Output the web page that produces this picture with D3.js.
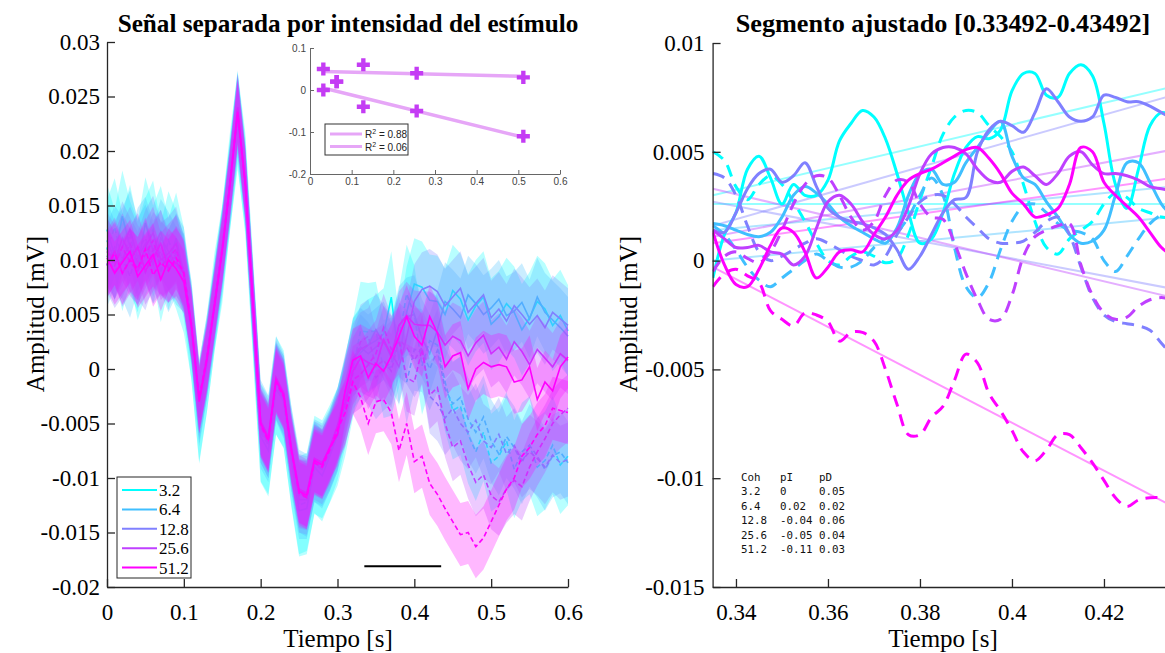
<!DOCTYPE html>
<html>
<head>
<meta charset="utf-8">
<script src="https://cdn.jsdelivr.net/npm/d3@7"></script>
<style>
  body { margin: 0; background: #fff; }
  svg { display: block; }
</style>
</head>
<body>
<svg id="chart" width="1165" height="653"></svg>
<script>
// ---------- data ----------
const coherences = ["3.2", "6.4", "12.8", "25.6", "51.2"];
const cohFraction = [0.032, 0.064, 0.128, 0.256, 0.512];
const palette = ["#00ffff", "#40bfff", "#8080ff", "#bf40ff", "#ff00ff"];

// standard error of each averaged signal (mV)
const semD = [0.0042, 0.0036, 0.0034, 0.0031, 0.0029];
const semI = [0.0045, 0.0038, 0.0034, 0.0031, 0.0029];

// averaged signals, 0 to 0.6 s every 10 ms (mV); D = solid, I = dashed
const ampD_32 = [0.0128,0.0104,0.0140,0.0112,0.0094,0.0134,0.0108,0.0126,0.0096,0.0120,0.0088,0.0030,-0.0045,0.0002,0.0058,0.0108,0.0168,0.0230,0.0165,0.0052,-0.0062,-0.0075,-0.0018,-0.0030,-0.0085,-0.0130,-0.0128,-0.0090,-0.0098,-0.0080,-0.0060,
  -0.0030,0.0005,0.0015,0.0022,0.0026,0.0032,0.0066,0.0008,0.0052,0.0078,0.0075,0.0063,0.0062,0.0050,0.0072,0.0064,0.0045,0.0058,0.0066,0.0041,0.0048,0.0060,0.0052,0.0036,0.0047,0.0062,0.0055,0.0040,0.0049,0.0035];
const ampI_32 = [0.0110,0.0130,0.0098,0.0124,0.0090,0.0112,0.0128,0.0088,0.0118,0.0100,0.0078,0.0035,-0.0040,0.0005,0.0062,0.0105,0.0172,0.0228,0.0172,0.0058,-0.0058,-0.0070,-0.0015,-0.0028,-0.0080,-0.0125,-0.0122,-0.0088,-0.0092,-0.0078,-0.0062,
  -0.0035,0.0000,0.0035,0.0034,0.0035,0.0000,0.0002,0.0028,0.0069,0.0050,0.0003,0.0026,0.0022,-0.0012,-0.0038,-0.0034,-0.0060,-0.0076,-0.0058,-0.0086,-0.0080,-0.0066,-0.0092,-0.0076,-0.0070,-0.0090,-0.0084,-0.0070,-0.0088,-0.0080];
const ampD_64 = [0.0118,0.0100,0.0112,0.0128,0.0102,0.0115,0.0096,0.0120,0.0108,0.0095,0.0088,0.0038,-0.0035,0.0008,0.0060,0.0112,0.0172,0.0238,0.0168,0.0058,-0.0055,-0.0068,-0.0012,-0.0028,-0.0078,-0.0120,-0.0120,-0.0086,-0.0092,-0.0076,-0.0058,
  -0.0025,0.0010,0.0020,0.0014,0.0020,0.0026,0.0010,0.0040,0.0048,0.0050,0.0028,0.0014,0.0036,0.0062,0.0055,0.0047,0.0068,0.0060,0.0050,0.0056,0.0064,0.0049,0.0053,0.0061,0.0046,0.0066,0.0052,0.0045,0.0038,0.0030];
const ampI_64 = [0.0095,0.0112,0.0102,0.0085,0.0110,0.0120,0.0098,0.0108,0.0090,0.0105,0.0092,0.0042,-0.0030,0.0012,0.0058,0.0108,0.0168,0.0232,0.0174,0.0062,-0.0048,-0.0062,-0.0008,-0.0024,-0.0072,-0.0112,-0.0116,-0.0084,-0.0088,-0.0074,-0.0056,
  -0.0030,-0.0005,0.0012,0.0005,-0.0008,0.0000,0.0006,0.0030,-0.0012,0.0018,0.0017,0.0000,0.0017,-0.0018,-0.0032,-0.0026,-0.0046,-0.0058,-0.0044,-0.0066,-0.0078,-0.0062,-0.0072,-0.0086,-0.0070,-0.0080,-0.0092,-0.0080,-0.0076,-0.0086];
const ampD_128 = [0.0110,0.0098,0.0120,0.0105,0.0092,0.0112,0.0125,0.0100,0.0106,0.0115,0.0086,0.0042,-0.0026,0.0012,0.0062,0.0112,0.0170,0.0236,0.0170,0.0060,-0.0048,-0.0062,-0.0008,-0.0022,-0.0072,-0.0112,-0.0114,-0.0082,-0.0086,-0.0072,-0.0052,
  -0.0020,0.0008,0.0018,0.0022,0.0036,0.0024,0.0015,0.0002,0.0029,0.0062,0.0073,0.0076,0.0071,0.0058,0.0066,0.0074,0.0052,0.0060,0.0068,0.0047,0.0055,0.0044,0.0058,0.0050,0.0041,0.0049,0.0038,0.0052,0.0046,0.0040];
const ampI_128 = [0.0104,0.0090,0.0100,0.0115,0.0098,0.0088,0.0110,0.0102,0.0094,0.0108,0.0090,0.0040,-0.0030,0.0008,0.0058,0.0108,0.0168,0.0232,0.0168,0.0058,-0.0052,-0.0066,-0.0012,-0.0026,-0.0076,-0.0116,-0.0118,-0.0086,-0.0090,-0.0076,-0.0058,
  -0.0028,0.0002,0.0025,0.0030,0.0002,0.0008,-0.0002,0.0027,0.0020,0.0008,0.0020,-0.0025,-0.0032,-0.0045,-0.0036,-0.0050,-0.0058,-0.0047,-0.0066,-0.0072,-0.0060,-0.0078,-0.0070,-0.0084,-0.0076,-0.0082,-0.0090,-0.0079,-0.0086,-0.0083];
const ampD_256 = [0.0096,0.0108,0.0088,0.0100,0.0112,0.0090,0.0102,0.0115,0.0092,0.0098,0.0088,0.0040,-0.0028,0.0010,0.0060,0.0110,0.0170,0.0240,0.0172,0.0062,-0.0048,-0.0062,-0.0008,-0.0022,-0.0072,-0.0110,-0.0114,-0.0082,-0.0086,-0.0072,-0.0052,
  -0.0032,-0.0002,0.0010,0.0006,0.0003,0.0027,0.0012,0.0040,0.0049,0.0041,0.0040,0.0040,0.0034,0.0022,0.0030,0.0026,0.0012,0.0024,0.0031,0.0014,0.0020,0.0009,0.0025,0.0016,0.0004,0.0018,0.0010,0.0002,0.0014,0.0008];
const ampI_256 = [0.0108,0.0095,0.0112,0.0098,0.0090,0.0105,0.0118,0.0094,0.0102,0.0110,0.0085,0.0042,-0.0028,0.0012,0.0062,0.0112,0.0172,0.0238,0.0170,0.0060,-0.0050,-0.0064,-0.0010,-0.0024,-0.0074,-0.0114,-0.0116,-0.0084,-0.0088,-0.0074,-0.0056,
  -0.0040,-0.0010,-0.0005,0.0004,0.0014,0.0038,0.0018,0.0026,-0.0008,-0.0012,0.0018,-0.0024,-0.0017,-0.0050,-0.0072,-0.0066,-0.0088,-0.0104,-0.0097,-0.0116,-0.0122,-0.0110,-0.0102,-0.0108,-0.0090,-0.0076,-0.0064,-0.0050,-0.0042,-0.0036];
const ampD_512 = [0.0102,0.0088,0.0098,0.0108,0.0085,0.0095,0.0105,0.0082,0.0100,0.0092,0.0080,0.0038,-0.0030,0.0008,0.0058,0.0108,0.0168,0.0236,0.0170,0.0060,-0.0050,-0.0064,-0.0010,-0.0024,-0.0074,-0.0112,-0.0116,-0.0084,-0.0088,-0.0072,-0.0060,
  -0.0020,0.0008,0.0012,-0.0008,0.0005,-0.0002,0.0012,0.0030,0.0048,0.0030,0.0022,0.0048,0.0033,0.0002,0.0012,0.0015,-0.0018,0.0000,0.0006,0.0002,0.0004,0.0002,-0.0012,-0.0010,0.0002,-0.0028,-0.0012,-0.0020,0.0002,0.0011];
const ampI_512 = [0.0095,0.0106,0.0088,0.0100,0.0092,0.0110,0.0086,0.0098,0.0090,0.0102,0.0088,0.0040,-0.0026,0.0010,0.0060,0.0110,0.0170,0.0234,0.0168,0.0058,-0.0052,-0.0066,-0.0012,-0.0026,-0.0076,-0.0114,-0.0118,-0.0086,-0.0090,-0.0074,-0.0055,
  -0.0040,-0.0012,-0.0026,-0.0050,-0.0030,-0.0028,-0.0040,-0.0075,-0.0050,-0.0085,-0.0080,-0.0105,-0.0115,-0.0128,-0.0140,-0.0152,-0.0150,-0.0163,-0.0155,-0.0140,-0.0125,-0.0110,-0.0100,-0.0080,-0.0072,-0.0060,-0.0052,-0.0036,-0.0038,-0.0040];

// fitted segment, 0.335 to 0.435 s every 2.5 ms (mV)
const segD_32 = [-0.0008,0.0012,0.0022,0.0042,0.0048,0.0038,0.0026,0.0035,0.0030,0.0030,0.0037,0.0055,0.0063,0.0069,0.0066,0.0056,0.0040,0.0022,0.0008,0.0010,0.0022,0.0040,0.0052,0.0057,0.0056,0.0060,0.0078,0.0086,0.0086,0.0076,0.0075,0.0086,0.0090,0.0085,0.0063,0.0035,0.0024,0.0042,0.0062,0.0068,0.0066];
const segI_32 = [0.0050,0.0046,0.0034,0.0028,0.0035,0.0039,0.0035,0.0027,0.0018,0.0008,0.0000,-0.0002,0.0002,0.0004,0.0002,-0.0001,0.0001,0.0012,0.0028,0.0043,0.0058,0.0066,0.0069,0.0068,0.0062,0.0057,0.0050,0.0035,0.0018,0.0006,0.0003,0.0010,0.0014,0.0018,0.0026,0.0031,0.0029,0.0024,0.0022,0.0020,0.0020];
const segD_64 = [0.0017,0.0016,0.0014,0.0012,0.0011,0.0013,0.0020,0.0030,0.0034,0.0031,0.0026,0.0020,0.0016,0.0013,0.0010,0.0008,0.0015,0.0030,0.0040,0.0042,0.0035,0.0036,0.0045,0.0052,0.0059,0.0064,0.0048,0.0038,0.0035,0.0027,0.0020,0.0012,0.0008,0.0009,0.0014,0.0030,0.0045,0.0045,0.0036,0.0026,0.0020];
const segI_64 = [0.0016,0.0012,0.0005,-0.0003,-0.0009,-0.0012,-0.0008,-0.0004,0.0000,0.0003,0.0000,-0.0003,-0.0003,0.0000,0.0006,0.0010,0.0013,0.0020,0.0030,0.0038,0.0030,0.0006,-0.0012,-0.0017,-0.0010,0.0005,0.0018,0.0025,0.0026,0.0022,0.0017,0.0014,0.0013,0.0010,0.0000,-0.0005,0.0002,0.0010,0.0017,0.0021,0.0023];
const segD_128 = [0.0014,0.0013,0.0022,0.0033,0.0040,0.0042,0.0036,0.0039,0.0045,0.0034,0.0024,0.0020,0.0018,0.0017,0.0015,0.0012,0.0005,-0.0004,0.0002,0.0012,0.0022,0.0028,0.0029,0.0050,0.0060,0.0064,0.0062,0.0059,0.0068,0.0079,0.0073,0.0066,0.0064,0.0066,0.0076,0.0075,0.0073,0.0073,0.0071,0.0068,0.0065];
const segI_128 = [0.0040,0.0038,0.0030,0.0016,0.0004,0.0000,0.0002,0.0005,0.0008,0.0010,0.0008,0.0005,0.0002,0.0000,-0.0002,0.0002,0.0012,0.0020,0.0027,0.0030,0.0030,0.0026,0.0020,0.0015,0.0010,0.0008,0.0008,0.0009,0.0013,0.0018,0.0020,0.0012,-0.0003,-0.0017,-0.0025,-0.0028,-0.0029,-0.0030,-0.0032,-0.0038,-0.0044];
const segD_256 = [0.0014,0.0010,0.0006,0.0006,0.0007,0.0004,0.0003,-0.0002,0.0002,0.0015,0.0027,0.0030,0.0026,0.0018,0.0012,0.0010,0.0014,0.0025,0.0040,0.0049,0.0052,0.0052,0.0049,0.0042,0.0037,0.0036,0.0041,0.0043,0.0039,0.0035,0.0040,0.0048,0.0050,0.0044,0.0040,0.0040,0.0039,0.0037,0.0034,0.0033,0.0032];
const segI_256 = [-0.0005,0.0002,0.0004,0.0001,-0.0001,0.0004,0.0014,0.0026,0.0035,0.0039,0.0038,0.0030,0.0020,0.0014,0.0018,0.0030,0.0037,0.0036,0.0026,0.0020,0.0019,0.0008,-0.0006,-0.0018,-0.0027,-0.0027,-0.0016,0.0002,0.0011,0.0014,0.0016,0.0017,-0.0002,-0.0016,-0.0024,-0.0027,-0.0026,-0.0021,-0.0018,-0.0017,-0.0018];
const segD_512 = [0.0013,-0.0002,-0.0011,-0.0012,-0.0004,0.0007,0.0015,0.0013,0.0004,-0.0008,-0.0003,0.0004,0.0005,0.0004,0.0012,0.0020,0.0030,0.0037,0.0040,0.0042,0.0045,0.0048,0.0051,0.0052,0.0047,0.0040,0.0031,0.0026,0.0020,0.0021,0.0024,0.0035,0.0052,0.0050,0.0036,0.0030,0.0025,0.0020,0.0013,0.0006,0.0002];
const segI_512 = [-0.0012,-0.0006,-0.0004,-0.0007,-0.0010,-0.0023,-0.0027,-0.0030,-0.0024,-0.0025,-0.0028,-0.0037,-0.0033,-0.0033,-0.0037,-0.0050,-0.0066,-0.0080,-0.0080,-0.0072,-0.0067,-0.0055,-0.0043,-0.0047,-0.0061,-0.0069,-0.0078,-0.0088,-0.0092,-0.0087,-0.0080,-0.0080,-0.0086,-0.0093,-0.0101,-0.0109,-0.0113,-0.0110,-0.0109,-0.0109,-0.0110];

// slopes of the fitted segment (mV/s) and fit value at segment start (mV)
const slopeI = [0, 0.02, -0.04, -0.05, -0.11];
const slopeD = [0.05, 0.02, 0.06, 0.04, 0.03];
const fitStartI = [0.0026, 0.0000, 0.0027, 0.0033, -0.0003];
const fitStartD = [0.0030, 0.0014, 0.0016, 0.0011, 0.0008];
const r2Labels = ["0.88", "0.06"];

// time grids and window
const tStep = 0.01;
const segStep = 0.0025;
const segStart = 0.335;
const fitWindow = [0.33492, 0.43492];

// axis ticks
const leftYTicks = [-0.02, -0.015, -0.01, -0.005, 0, 0.005, 0.01, 0.015, 0.02, 0.025, 0.03];
const leftXTicks = [0, 0.1, 0.2, 0.3, 0.4, 0.5, 0.6];
const rightYTicks = [-0.015, -0.01, -0.005, 0, 0.005, 0.01];
const rightXTicks = [0.34, 0.36, 0.38, 0.4, 0.42];
const insetYTicks = [-0.2, -0.1, 0, 0.1];
const insetXTicks = [0, 0.1, 0.2, 0.3, 0.4, 0.5, 0.6];

const ampD = [ampD_32, ampD_64, ampD_128, ampD_256, ampD_512];
const ampI = [ampI_32, ampI_64, ampI_128, ampI_256, ampI_512];
const segD = [segD_32, segD_64, segD_128, segD_256, segD_512];
const segI = [segI_32, segI_64, segI_128, segI_256, segI_512];

// ---------- drawing ----------
const svg = d3.select("#chart");
const serif = "'Liberation Serif', 'Times New Roman', serif";
const sans = "'Liberation Sans', Arial, sans-serif";
const ink = "#262626";
const fmt = v => String(+v.toFixed(4));

function styleAxis(g, size) {
  g.attr("font-family", serif).attr("font-size", size);
  g.select(".domain").attr("stroke", ink).attr("stroke-width", 1.3);
  g.selectAll(".tick line").attr("stroke", ink).attr("stroke-width", 1.3);
  g.selectAll(".tick text").attr("fill", "#000")
    .attr("font-family", serif).style("font-family", serif).style("font-size", size + "px");
}

// ===== left panel =====
const xL = d3.scaleLinear().domain([0, 0.6]).range([107, 568]);
const yL = d3.scaleLinear().domain([-0.02, 0.03]).range([587, 42]);

const lineL = d3.line().x((d, i) => xL(i * tStep)).y(d => yL(d));
const bandL = s => d3.area().x((d, i) => xL(i * tStep)).y0(d => yL(d - s)).y1(d => yL(d + s));

const gL = svg.append("g");
coherences.forEach((c, k) => {
  [[ampD[k], semD[k], null], [ampI[k], semI[k], "5,3"]].forEach(([vals, s, dash]) => {
    gL.append("path").attr("d", bandL(s)(vals))
      .attr("fill", palette[k]).attr("fill-opacity", 0.28).attr("stroke", "none");
    gL.append("path").attr("d", lineL(vals))
      .attr("fill", "none").attr("stroke", palette[k]).attr("stroke-width", 1.6)
      .attr("stroke-dasharray", dash);
  });
});

// fitted window marker
svg.append("line")
  .attr("x1", xL(fitWindow[0])).attr("x2", xL(fitWindow[1]))
  .attr("y1", yL(-0.0181)).attr("y2", yL(-0.0181))
  .attr("stroke", "#000").attr("stroke-width", 2);

const axLY = svg.append("g").attr("transform", "translate(107,0)")
  .call(d3.axisLeft(yL).tickValues(leftYTicks).tickFormat(fmt).tickSizeInner(-8).tickSizeOuter(0).tickPadding(7));
styleAxis(axLY, 23);
const axLX = svg.append("g").attr("transform", "translate(0,587)")
  .call(d3.axisBottom(xL).tickValues(leftXTicks).tickFormat(fmt).tickSizeInner(-8).tickSizeOuter(0).tickPadding(17));
styleAxis(axLX, 23);

svg.append("text").attr("x", 348).attr("y", 32).attr("text-anchor", "middle")
  .style("font-family", serif).style("font-size", "25.2px").style("font-weight", "bold")
  .text("Señal separada por intensidad del estímulo");
svg.append("text").attr("x", 338).attr("y", 647).attr("text-anchor", "middle")
  .style("font-family", serif).style("font-size", "25px").text("Tiempo [s]");
svg.append("text").attr("transform", "translate(44,314) rotate(-90)").attr("text-anchor", "middle")
  .style("font-family", serif).style("font-size", "25px").text("Amplitud [mV]");

// legend
const lg = svg.append("g").attr("transform", "translate(117,477)");
lg.append("rect").attr("width", 74).attr("height", 101).attr("fill", "#fff").attr("stroke", ink).attr("stroke-width", 1);
coherences.forEach((c, k) => {
  const y = 13 + k * 19.4;
  lg.append("line").attr("x1", 5).attr("x2", 40).attr("y1", y).attr("y2", y)
    .attr("stroke", palette[k]).attr("stroke-width", 2);
  lg.append("text").attr("x", 42).attr("y", y + 6)
    .style("font-family", serif).style("font-size", "17px").text(c);
});

// ===== inset: slope vs coherence =====
const xIn = d3.scaleLinear().domain([0, 0.6]).range([310, 560]);
const yIn = d3.scaleLinear().domain([-0.2, 0.1]).range([174, 48]);

function leastSquares(xs, ys) {
  const mx = d3.mean(xs), my = d3.mean(ys);
  let sxy = 0, sxx = 0;
  xs.forEach((x, i) => { sxy += (x - mx) * (ys[i] - my); sxx += (x - mx) * (x - mx); });
  const m = sxy / sxx;
  return { m, b: my - m * mx };
}
const insetFits = [leastSquares(cohFraction, slopeI), leastSquares(cohFraction, slopeD)];
const xExt = d3.extent(cohFraction);
insetFits.forEach(f => {
  svg.append("line")
    .attr("x1", xIn(xExt[0])).attr("y1", yIn(f.m * xExt[0] + f.b))
    .attr("x2", xIn(xExt[1])).attr("y2", yIn(f.m * xExt[1] + f.b))
    .attr("stroke", "#e6a6f7").attr("stroke-width", 3.5);
});
const cross = d3.symbol().type(d3.symbolCross).size(95);
[slopeI, slopeD].forEach(arr => {
  arr.forEach((v, i) => {
    svg.append("path").attr("d", cross())
      .attr("transform", `translate(${xIn(cohFraction[i])},${yIn(v)})`)
      .attr("fill", "#c43cf4");
  });
});
function styleInset(g) {
  g.attr("font-family", sans);
  g.select(".domain").attr("stroke", "#666").attr("stroke-width", 1);
  g.selectAll(".tick line").attr("stroke", "#666");
  g.selectAll(".tick text").attr("fill", "#444").style("font-family", sans).style("font-size", "10px");
}
styleInset(svg.append("g").attr("transform", "translate(310,0)")
  .call(d3.axisLeft(yIn).tickValues(insetYTicks).tickFormat(fmt).tickSizeInner(-4).tickSizeOuter(0).tickPadding(4)));
styleInset(svg.append("g").attr("transform", "translate(0,174)")
  .call(d3.axisBottom(xIn).tickValues(insetXTicks).tickFormat(fmt).tickSizeInner(-4).tickSizeOuter(0).tickPadding(4)));

const il = svg.append("g").attr("transform", "translate(325,124)");
il.append("rect").attr("width", 83).attr("height", 31).attr("fill", "#fff").attr("stroke", "#333").attr("stroke-width", 1);
r2Labels.forEach((r, i) => {
  const y = 10 + i * 12.5;
  il.append("line").attr("x1", 5).attr("x2", 37).attr("y1", y).attr("y2", y)
    .attr("stroke", "#e6a6f7").attr("stroke-width", 3);
  const t = il.append("text").attr("x", 40).attr("y", y + 4)
    .style("font-family", sans).style("font-size", "10px").attr("fill", "#222");
  t.append("tspan").text("R");
  t.append("tspan").attr("dy", -4).style("font-size", "7px").text("2");
  t.append("tspan").attr("dy", 4).text(" = " + r);
});

// ===== right panel: fitted segment =====
const xR = d3.scaleLinear().domain(fitWindow).range([712.6, 1172.6]);
const yR = d3.scaleLinear().domain([-0.015, 0.01]).range([587, 43]);

svg.append("clipPath").attr("id", "clipR").append("rect")
  .attr("x", 712.6).attr("y", 43).attr("width", 460).attr("height", 544);
const gR = svg.append("g").attr("clip-path", "url(#clipR)");

// regression lines
coherences.forEach((c, k) => {
  [[fitStartD[k], slopeD[k]], [fitStartI[k], slopeI[k]]].forEach(([b, m]) => {
    gR.append("line")
      .attr("x1", xR(segStart)).attr("y1", yR(b))
      .attr("x2", xR(segStart + 0.1)).attr("y2", yR(b + m * 0.1))
      .attr("stroke", palette[k]).attr("stroke-opacity", 0.42).attr("stroke-width", 2);
  });
});

const lineR = d3.line().curve(d3.curveCatmullRom.alpha(0.5))
  .x((d, i) => xR(segStart + i * segStep)).y(d => yR(d));
coherences.forEach((c, k) => {
  gR.append("path").attr("d", lineR(segI[k])).attr("fill", "none")
    .attr("stroke", palette[k]).attr("stroke-width", 3).attr("stroke-dasharray", "12,8");
  gR.append("path").attr("d", lineR(segD[k])).attr("fill", "none")
    .attr("stroke", palette[k]).attr("stroke-width", 3);
});

const axRY = svg.append("g").attr("transform", "translate(712.6,0)")
  .call(d3.axisLeft(yR).tickValues(rightYTicks).tickFormat(fmt).tickSizeInner(-8).tickSizeOuter(0).tickPadding(8));
styleAxis(axRY, 23);
const axRX = svg.append("g").attr("transform", "translate(0,587)")
  .call(d3.axisBottom(xR).tickValues(rightXTicks).tickFormat(fmt).tickSizeInner(-8).tickSizeOuter(0).tickPadding(17));
styleAxis(axRX, 23);

svg.append("text").attr("x", 943).attr("y", 32).attr("text-anchor", "middle")
  .style("font-family", serif).style("font-size", "26.2px").style("font-weight", "bold")
  .text(`Segmento ajustado [${fitWindow[0]}-${fitWindow[1]}]`);
svg.append("text").attr("x", 943).attr("y", 647).attr("text-anchor", "middle")
  .style("font-family", serif).style("font-size", "25px").text("Tiempo [s]");
svg.append("text").attr("transform", "translate(637,314) rotate(-90)").attr("text-anchor", "middle")
  .style("font-family", serif).style("font-size", "25px").text("Amplitud [mV]");

// slope table
const rows = [["Coh", "pI", "pD"]].concat(coherences.map((c, k) => [c, fmt(slopeI[k]), fmt(slopeD[k])]));
const tbl = svg.append("text").attr("x", 741).attr("y", 481)
  .style("font-family", "'DejaVu Sans Mono', monospace").style("font-size", "10.8px")
  .attr("xml:space", "preserve").attr("fill", "#111");
rows.forEach((r, i) => {
  tbl.append("tspan").attr("x", 741).attr("y", 481 + i * 14.4)
    .text(r[0].padEnd(6) + r[1].padEnd(6) + r[2]);
});
</script>
</body>
</html>
